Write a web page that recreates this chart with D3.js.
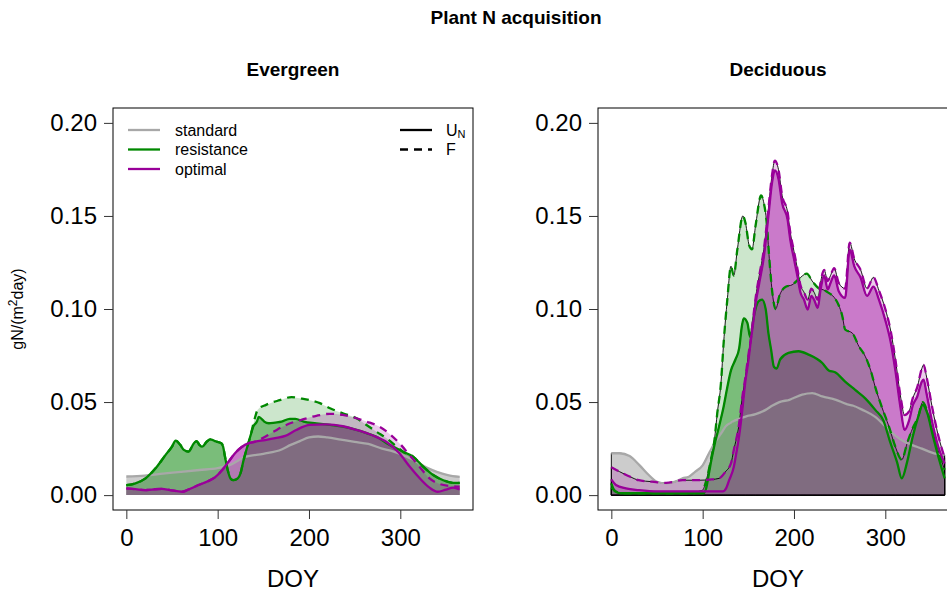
<!DOCTYPE html>
<html><head><meta charset="utf-8">
<script src="https://cdn.jsdelivr.net/npm/d3@7/dist/d3.min.js"></script>
<style>body{margin:0;background:#fff} svg text{font-family:"Liberation Sans",Arial,sans-serif;fill:#000}</style>
</head><body><svg id="c" width="947" height="594"></svg>
<script>
// ---------------- DATA ----------------
const xTicks = [0, 100, 200, 300];
const yTicks = [0, 0.05, 0.10, 0.15, 0.20];
const yTickLabels = ["0.00", "0.05", "0.10", "0.15", "0.20"];
const scenarioNames = ["standard", "resistance", "optimal"];
const panelTitles = ["Evergreen", "Deciduous"];

// Evergreen – standard U_N
const evStdUdoy = [0,20,40,60,80,100,115,130,150,170,180,190,200,210,220,235,250,265,280,292,305,318,330,340,352,365];
const evStdU    = [.0100,.0105,.0115,.0125,.0135,.0145,.0165,.0205,.0222,.0245,.027,.029,.031,.0315,.031,.0298,.0286,.0275,.025,.0235,.021,.018,.0145,.0125,.0108,.0098];
// Evergreen – resistance U_N
const evResUdoy = [0,10,21,32,43,50,54,59,63,68,74,77,80,83,88,92,97,104,106,108,111,114,117,122,125,128,132,136,139,143,145,148,151,156,163,170,179,185,194,208,223,237,252,263,274,285,296,303,314,325,336,347,358,365];
const evResU    = [.0054,.0063,.009,.0144,.0216,.026,.0293,.027,.0243,.0234,.0279,.029,.027,.026,.0287,.030,.029,.0279,.026,.0207,.0135,.009,.008,.009,.0117,.018,.0252,.032,.0368,.0395,.042,.041,.0395,.0386,.039,.0395,.041,.041,.0395,.0386,.0377,.0368,.035,.0333,.0314,.0279,.025,.0233,.0207,.0153,.0108,.008,.0066,.0066];
// Evergreen – resistance F
const evResFdoy = [0,10,21,32,43,50,54,59,63,68,74,77,80,83,88,92,97,104,106,108,111,114,117,122,125,128,132,136,140,144,153,168,181,190,201,212,223,237,252,263,274,285,296,303,314,325,336,347,358,365];
const evResF    = [.0054,.0063,.009,.0144,.0216,.026,.0293,.027,.0243,.0234,.0279,.029,.027,.026,.0287,.030,.029,.0279,.026,.0207,.0135,.009,.008,.009,.0117,.018,.0252,.032,.040,.046,.0485,.051,.0527,.052,.051,.0494,.0467,.044,.0413,.0377,.034,.0305,.026,.0233,.0207,.0153,.0108,.008,.0066,.0066];
// Evergreen – optimal U_N
const evOptUdoy = [0,10,21,28,39,48,61,68,79,88,97,105,112,119,126,134,141,152,163,174,186,201,219,237,252,270,285,299,310,321,332,341,350,358,365];
const evOptU    = [.0036,.0032,.0027,.003,.0034,.0027,.0018,.003,.0054,.0072,.0095,.0135,.018,.0225,.0257,.0279,.0287,.0296,.0306,.0318,.035,.0377,.038,.037,.035,.032,.0285,.0225,.0155,.0092,.004,.0018,.003,.004,.003];
// Evergreen – optimal F
const evOptFdoy = [0,10,21,28,39,48,61,68,79,88,97,105,112,119,126,134,141,146,161,175,194,208,223,237,252,263,277,288,299,310,321,332,343,354,365];
const evOptF    = [.0036,.0032,.0027,.003,.0034,.0027,.0018,.003,.0054,.0072,.0095,.0135,.018,.0225,.0257,.0279,.0287,.0298,.034,.0377,.0408,.0426,.0437,.0431,.0413,.0395,.0368,.033,.0279,.0216,.0153,.009,.006,.0049,.0045];

// Deciduous – standard U_N
const deStdUdoy = [0,9,20,31,41,50,60,70,78,85,92,100,107,113,120,125,133,140,147,158,169,176,184,195,209,220,231,246,257,265,275,289,300,311,320,329,340,348,357,365];
const deStdU    = [.0225,.0225,.021,.016,.0108,.0072,.0063,.0072,.009,.0099,.0126,.016,.0225,.0279,.033,.0368,.0395,.041,.0422,.0435,.0458,.048,.050,.0512,.054,.0548,.053,.0512,.049,.048,.0458,.042,.037,.032,.029,.027,.025,.0234,.022,.0216];
// Deciduous – resistance U_N
const deResUdoy = [0,4,10,30,60,90,101,104,107,110,113,118,123,127,131,136,140,143,145,149,152,156,161,165,169,172,175,178,181,185,194,205,216,231,238,245,256,267,278,289,298,305,313,318,324,330,336,341,346,352,359,365];
const deResU    = [.0063,.002,.001,.001,.001,.001,.001,.004,.012,.020,.027,.037,.0476,.058,.067,.073,.079,.091,.095,.0925,.085,.096,.104,.105,.100,.087,.078,.069,.068,.073,.0764,.0773,.0755,.071,.067,.066,.061,.0565,.052,.0458,.040,.029,.0175,.009,.018,.0314,.042,.0485,.044,.032,.019,.009];
// Deciduous – resistance F
const deResFdoy = [0,5,10,30,60,90,100,104,109,113,116,120,123,127,131,134,138,144,147,151,154,158,164,167,170,173,176,180,184,191,198,205,214,220,225,235,247,253,256,264,271,278,284,289,296,304,311,318,324,330,336,341,346,352,358,365];
const deResF    = [.004,.002,.001,.001,.001,.001,.0027,.008,.019,.030,.044,.060,.082,.105,.123,.118,.132,.150,.146,.134,.132,.145,.161,.157,.147,.127,.110,.100,.107,.112,.113,.116,.119,.115,.112,.1096,.104,.096,.089,.087,.080,.0746,.067,.058,.0476,.0368,.026,.019,.028,.036,.042,.050,.045,.034,.024,.0135];
// Deciduous – optimal U_N
const deOptUdoy = [0,5,16,30,50,70,90,110,122,126,129,134,137,140,143,147,150,153,156,158,162,167,172,176,179,183,187,193,196,200,204,207,211,215,219,222,226,229,233,237,240,244,249,256,261,266,273,280,287,293,300,306,311,317,321,326,330,335,340,342,345,351,358,365];
const deOptU    = [.0084,.0054,.0036,.0027,.002,.002,.002,.002,.002,.004,.008,.015,.023,.032,.044,.062,.072,.084,.095,.103,.114,.128,.150,.168,.1745,.170,.157,.148,.137,.127,.117,.109,.105,.0997,.107,.105,.1006,.110,.118,.1105,.114,.118,.1096,.106,.132,.123,.1168,.107,.112,.105,.094,.082,.067,.0458,.035,.040,.048,.053,.061,.062,.055,.040,.026,.017];
// Deciduous – optimal F
const deOptFdoy = [0,9,20,30,45,60,78,96,110,118,125,131,134,140,143,147,150,153,156,158,162,167,172,176,179,183,187,193,196,200,204,207,211,215,219,222,226,229,233,237,240,244,249,256,261,266,273,280,287,293,300,306,311,317,321,326,330,335,340,342,345,351,358,365];
const deOptF    = [.015,.0126,.010,.008,.0072,.0066,.008,.008,.0084,.009,.0126,.017,.024,.0386,.051,.064,.075,.085,.098,.106,.118,.132,.154,.172,.1797,.175,.161,.152,.141,.131,.121,.113,.109,.105,.111,.109,.105,.114,.121,.115,.118,.122,.114,.111,.1357,.127,.121,.111,.117,.110,.100,.088,.073,.052,.043,.045,.052,.058,.068,.070,.064,.048,.032,.020];

// ---------------- STYLE ----------------
const lineColors = {standard:"#a8a8a8", resistance:"#008800", optimal:"#990099"};
const fillColors = {standard:"#999999", resistance:"#008000", optimal:"#990099"};
const fillOpacity = {standard:0.5, U:0.4, F:0.2};
// polygon layering order (index into each panel's series list)
const fillOrder = [1, 3, 0, 2, 4];

const svg = d3.select("#c");
svg.append("rect").attr("width",947).attr("height",594).attr("fill","#fff");

svg.append("text").attr("x",516).attr("y",24).attr("text-anchor","middle")
  .attr("font-weight","bold").attr("font-size",19).text("Plant N acquisition");

const panels = [
  {x0:113, x1:473, title:panelTitles[0], bordered:false, series:[
    {sc:"standard", v:"U", doy:evStdUdoy, val:evStdU},
    {sc:"resistance", v:"U", doy:evResUdoy, val:evResU},
    {sc:"resistance", v:"F", doy:evResFdoy, val:evResF},
    {sc:"optimal", v:"U", doy:evOptUdoy, val:evOptU},
    {sc:"optimal", v:"F", doy:evOptFdoy, val:evOptF}]},
  {x0:598, x1:958, title:panelTitles[1], bordered:true, series:[
    {sc:"standard", v:"U", doy:deStdUdoy, val:deStdU},
    {sc:"resistance", v:"U", doy:deResUdoy, val:deResU},
    {sc:"resistance", v:"F", doy:deResFdoy, val:deResF},
    {sc:"optimal", v:"U", doy:deOptUdoy, val:deOptU},
    {sc:"optimal", v:"F", doy:deOptFdoy, val:deOptF}]}
];

const Y0 = 108, Y1 = 510;
panels.forEach((p, pi) => {
  const x = d3.scaleLinear().domain([-14.6, 379.6]).range([p.x0, p.x1]);
  const y = d3.scaleLinear().domain([-0.008, 0.208]).range([Y1, Y0]);
  const g = svg.append("g");
  const area = d3.area().x(d=>x(d[0])).y0(y(0)).y1(d=>y(d[1])).curve(d3.curveMonotoneX);
  const line = d3.line().x(d=>x(d[0])).y(d=>y(d[1])).curve(d3.curveMonotoneX);

  fillOrder.forEach(k => {
    const s = p.series[k];
    g.append("path").datum(d3.zip(s.doy, s.val)).attr("d", area)
      .attr("fill", fillColors[s.sc])
      .attr("fill-opacity", s.sc==="standard" ? fillOpacity.standard : fillOpacity[s.v])
      .attr("stroke", p.bordered ? "#000" : "none").attr("stroke-width", 0.9);
  });
  p.series.forEach(s => {
    g.append("path").datum(d3.zip(s.doy, s.val)).attr("d", line)
      .attr("fill","none").attr("stroke", lineColors[s.sc]).attr("stroke-width", 2.3)
      .attr("stroke-dasharray", s.v==="F" ? "8,6" : null).attr("stroke-linejoin","round");
  });

  // box
  svg.append("rect").attr("x",p.x0).attr("y",Y0).attr("width",p.x1-p.x0).attr("height",Y1-Y0)
    .attr("fill","none").attr("stroke","#000").attr("stroke-width",1);

  // axes
  const ay = svg.append("g").attr("transform",`translate(${p.x0},0)`)
    .call(d3.axisLeft(y).tickValues(yTicks).tickFormat((d,i)=>yTickLabels[i]).tickSize(9).tickPadding(7));
  const ax = svg.append("g").attr("transform",`translate(0,${Y1})`)
    .call(d3.axisBottom(x).tickValues(xTicks).tickFormat(d3.format("d")).tickSize(9).tickPadding(10));
  [ax, ay].forEach(a => {
    a.select(".domain").remove();
    a.selectAll("line").attr("stroke","#333");
    a.selectAll("text").attr("font-size",24).attr("font-family","Liberation Sans, Arial, sans-serif").attr("fill","#000");
  });

  svg.append("text").attr("x",(p.x0+p.x1)/2).attr("y",76).attr("text-anchor","middle")
    .attr("font-weight","bold").attr("font-size",19).text(p.title);
  svg.append("text").attr("x",(p.x0+p.x1)/2).attr("y",587).attr("text-anchor","middle")
    .attr("font-size",24).text("DOY");

  if (pi === 0) {
    // y axis label
    const t = svg.append("text").attr("transform","translate(23,309) rotate(-90)")
      .attr("text-anchor","middle").attr("font-size",16);
    t.append("tspan").text("gN/(m");
    t.append("tspan").attr("font-size",12).attr("dy",-6).text("2");
    t.append("tspan").attr("dy",6).text("day)");

    // legend
    const lg = svg.append("g");
    scenarioNames.forEach((n,i) => {
      const yy = 130 + i*19.5;
      lg.append("line").attr("x1",128).attr("x2",160).attr("y1",yy).attr("y2",yy)
        .attr("stroke",lineColors[n]).attr("stroke-width",2.3);
      lg.append("text").attr("x",175).attr("y",yy+5.5).attr("font-size",16).text(n);
    });
    lg.append("line").attr("x1",400).attr("x2",432).attr("y1",130).attr("y2",130)
      .attr("stroke","#000").attr("stroke-width",2.3);
    lg.append("line").attr("x1",400).attr("x2",432).attr("y1",149.5).attr("y2",149.5)
      .attr("stroke","#000").attr("stroke-width",2.3).attr("stroke-dasharray","8,6");
    const u = lg.append("text").attr("x",446).attr("y",135.5).attr("font-size",16);
    u.append("tspan").text("U");
    u.append("tspan").attr("font-size",11).attr("dy",2).text("N");
    lg.append("text").attr("x",446).attr("y",155).attr("font-size",16).text("F");
  }
});
</script>
</body></html>
